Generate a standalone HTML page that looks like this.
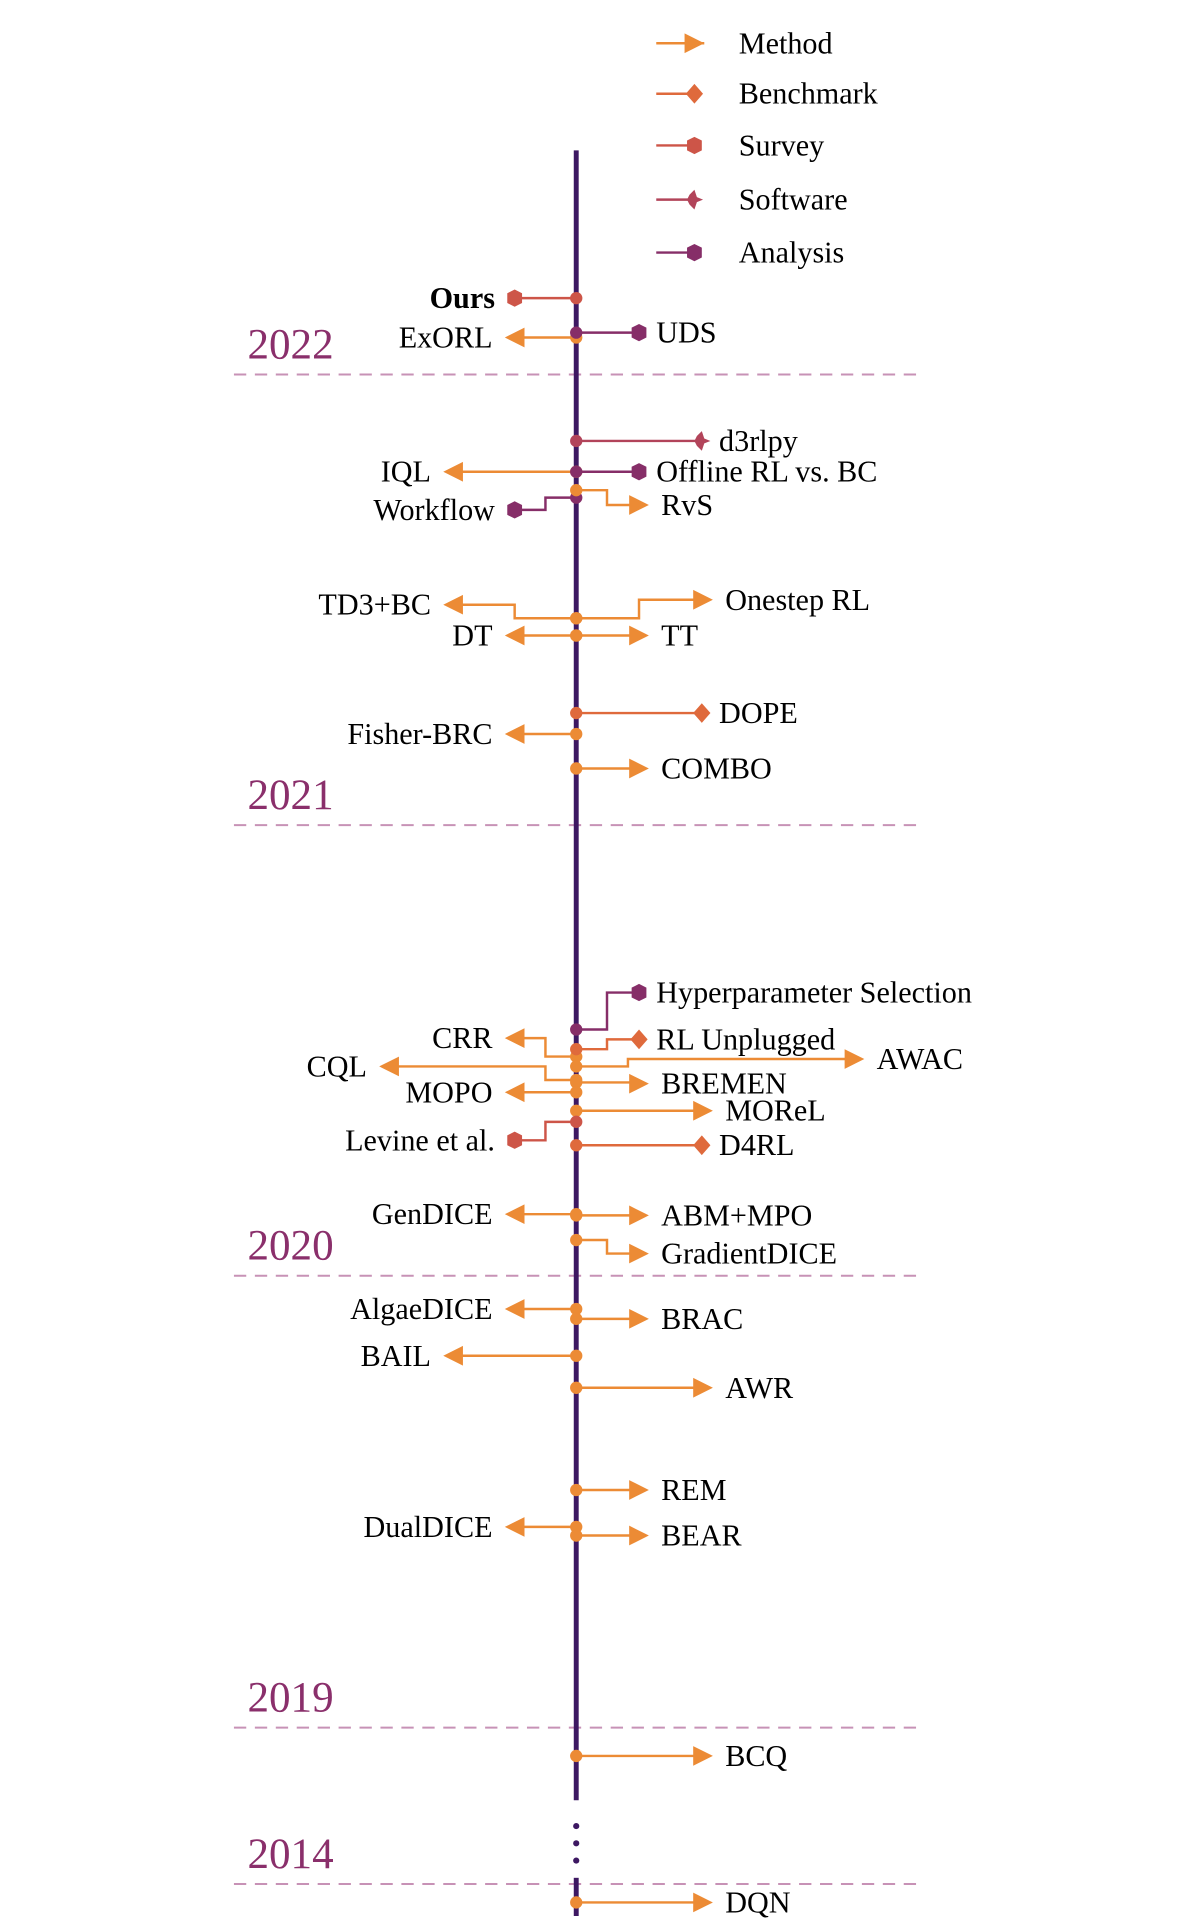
<!DOCTYPE html>
<html><head><meta charset="utf-8">
<style>
html,body{margin:0;padding:0;background:#fff;}
svg{display:block;}
text{font-family:"Liberation Serif",serif;}
</style></head>
<body>
<svg id="chart" width="1182" height="1926" viewBox="0 0 960 1564" xmlns="http://www.w3.org/2000/svg"></svg>
<script>
const labels = ["Ours","ExORL","UDS","d3rlpy","IQL","Offline RL vs. BC","Workflow","RvS","TD3+BC","Onestep RL","DT","TT","DOPE","Fisher-BRC","COMBO","Hyperparameter Selection","CRR","RL Unplugged","AWAC","CQL","BREMEN","MOPO","MOReL","Levine et al.","D4RL","GenDICE","ABM+MPO","GradientDICE","AlgaeDICE","BRAC","BAIL","AWR","REM","DualDICE","BEAR","BCQ","DQN"];
const types = ["survey","method","analysis","software","method","analysis","analysis","method","method","method","method","method","benchmark","method","method","analysis","method","benchmark","method","method","method","method","method","survey","benchmark","method","method","method","method","method","method","method","method","method","method","method","method"];
const sides = ["L","L","R","R","L","R","L","R","L","R","L","R","R","L","R","R","L","R","R","L","R","L","R","L","R","L","R","R","L","R","L","R","R","L","R","R","R"];
const dotY = [242,274,270,358,383,383,404,398,502,502,516,516,579,596,624,836,858,852,866,877,879,887,902,911,930,986,987,1007,1063,1071,1101,1127,1210,1240,1247,1426,1545];
const endY = [242,274,270,358,383,383,414,410,491,487,516,516,579,596,624,806,843,844,860,866,880,887,902,926,930,986,987,1018,1063,1071,1101,1127,1210,1240,1247,1426,1545];
const elbowX = [null,null,null,null,null,null,443,493,418,519,null,null,null,null,null,493,443,493,510,443,null,null,null,443,null,null,null,493,null,null,null,null,null,null,null,null,null];
const endX = [418,410,519,570,360,519,418,527,360,579,410,527,570,410,527,519,410,519,702,308,527,410,579,418,570,410,527,527,410,527,360,579,527,410,527,579,579];
const years = ["2022","2021","2020","2019","2014"];
const yearY = [304,670,1036,1403,1530];
const legendTypes = ["method","benchmark","survey","software","analysis"];
const legendLabels = ["Method","Benchmark","Survey","Software","Analysis"];

const colors = {method:"#ec8b35",benchmark:"#df6a3c",survey:"#cd5548",software:"#b2445a",analysis:"#862e68"};
const AX = 468;
const FS = 24.5;
const svg = document.getElementById('chart');
const NS = "http://www.w3.org/2000/svg";
function mk(tag, attrs, parent){const e=document.createElementNS(NS,tag);for(const k in attrs)e.setAttribute(k,attrs[k]);(parent||svg).appendChild(e);return e;}

years.forEach((y,i)=>{
  const g = mk('g',{});
  
  
  mk('line',{x1:190,x2:750,y1:yearY[i],y2:yearY[i],stroke:"#c792b6","stroke-width":1.6,"stroke-dasharray":"10 7"},g);
  const t = mk('text',{x:201,y:yearY[i]-13,fill:"#8a2f6b","font-size":35},g);
  t.textContent=y;
});

const ax = mk('g',{});


mk('line',{x1:AX,x2:AX,y1:122,y2:1462,stroke:"#3d1862","stroke-width":4},ax);
mk('line',{x1:AX,x2:AX,y1:1525,y2:1556,stroke:"#3d1862","stroke-width":4},ax);
[1483,1497,1511].forEach(y=>mk('circle',{cx:AX,cy:y,r:2.5,fill:"#3d1862"},ax));

function marker(type, x, y, dir, parent){
  const c = colors[type];
  if(type==="method"){
    const b = x - dir*16;
    return mk('polygon',{points:`${x},${y} ${b},${y-8} ${b},${y+8}`,fill:c},parent);
  }
  if(type==="benchmark") return mk('polygon',{points:`${x},${y-8} ${x+7},${y} ${x},${y+8} ${x-7},${y}`,fill:c},parent);
  if(type==="software") return mk('polygon',{points:`${x+7},${y} ${x+2},${y-2} ${x},${y-8} ${x-4},${y-4} ${x-6},${y} ${x-4},${y+4} ${x},${y+8} ${x+2},${y+2}`,fill:c},parent);
  return mk('polygon',{points:`${x},${y-7} ${x+6},${y-4} ${x+6},${y+4} ${x},${y+7} ${x-6},${y+4} ${x-6},${y-4}`,fill:c},parent);
}

legendTypes.forEach((t,i)=>{
  const y=[35,76,118,162,205][i];
  const g=mk('g',{});
  
  
  const mx = t==="method"?572:564;
  mk('line',{x1:533,x2:mx,y1:y,y2:y,stroke:colors[t],"stroke-width":2},g);
  marker(t,mx,y,1,g);
  const tx=mk('text',{x:600,y:y,"font-size":FS,"dominant-baseline":"central",fill:"#000"},g);
  tx.textContent=legendLabels[i];
});

labels.forEach((lab,i)=>{
  const g=mk('g',{});
  
  
  const c=colors[types[i]];
  const dir = sides[i]==="R"?1:-1;
  const ex = endX[i];
  const lineEnd = types[i]==="method" ? ex - dir*14 : ex;
  let d;
  if(elbowX[i]!==null) d=`M${AX},${dotY[i]} H${elbowX[i]} V${endY[i]} H${lineEnd}`;
  else d=`M${AX},${dotY[i]} H${lineEnd}`;
  mk('path',{d:d,fill:"none",stroke:c,"stroke-width":2},g);
  mk('circle',{cx:AX,cy:dotY[i],r:5,fill:c},g);
  marker(types[i],ex,endY[i],dir,g);
  const tx = dir===1 ? ex+(types[i]==="method"?10:14) : ex-(types[i]==="method"?10:16);
  const t=mk('text',{x:tx,y:endY[i],"font-size":FS,"dominant-baseline":"central","text-anchor":dir===1?"start":"end",fill:"#000"},g);
  if(lab==="Ours") t.setAttribute('font-weight','bold');
  t.textContent=lab;
});
</script>
</body></html>
